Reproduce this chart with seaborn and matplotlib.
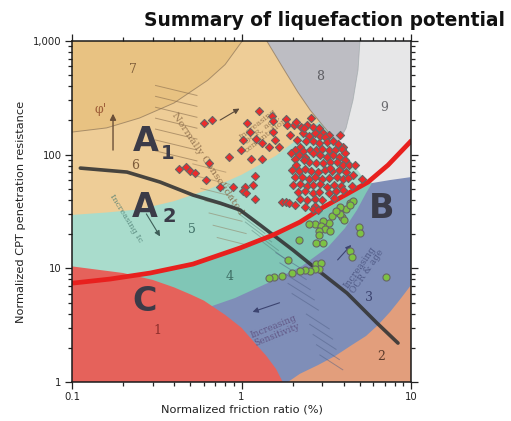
import numpy as np
import pandas as pd
import matplotlib
matplotlib.use("Agg")
import matplotlib.pyplot as plt
import seaborn as sns
from matplotlib.ticker import FixedLocator, LogLocator, FuncFormatter, NullFormatter

sns.set_theme(style="ticks")
plt.rcParams["font.family"] = ["DejaVu Sans"]

# ---------------- soil behaviour type zone boundaries (Fr %, Qt) ----------------
b76_fr = [0.05, 0.1, 0.16, 0.25, 0.4, 0.63, 0.8, 1.0, 1.12, 1.2]
b76_qt = [145, 158, 172, 210, 285, 450, 620, 980, 1400, 3000]

b65_fr = [0.05, 0.1, 0.16, 0.25, 0.4, 0.63, 1.0, 1.6, 2.5, 3.2, 4.0]
b65_qt = [28, 29.5, 31, 33, 39, 49, 66.5, 98, 164, 226, 336]

b54_fr = [0.05, 0.1, 0.25, 0.32, 0.4, 0.63, 1.0, 1.6, 2.5, 4.0, 5.0, 5.2]
b54_qt = [7.3, 7.6, 8.8, 9.4, 10.1, 12.0, 14.9, 19.6, 27.3, 41, 52.1, 54]

b43_fr = [0.05, 0.5, 0.698, 0.916, 1.43, 2.28, 3.24, 4.08, 4.80, 5.43, 5.89]
b43_qt = [3.0, 4.0, 4.76, 5.48, 7.43, 10.5, 15.4, 22.6, 32.6, 45.9, 56.3]

b32_fr = [1.7, 1.88, 2.21, 2.83, 3.56, 4.49, 5.43, 6.39, 7.52, 8.38, 9.22, 10.0, 11.0]
b32_qt = [0.8, 1.0, 1.18, 1.41, 1.69, 2.12, 2.54, 3.17, 4.13, 5.05, 6.07, 7.13, 8.6]

b1_fr = [0.05, 0.1, 0.2, 0.3, 0.4, 0.5, 0.6, 0.8, 1.0, 1.2, 1.4, 1.6, 1.75, 1.9]
b1_qt = [11.2, 10.4, 9.1, 7.9, 6.8, 5.9, 5.2, 3.9, 3.0, 2.2, 1.7, 1.3, 1.0, 0.75]

b8_fr = [1.41, 1.76, 2.15, 2.54, 3.07, 3.71]
b8_qt = [1000, 578, 355, 247, 175, 126.5]

b89_fr = [5.0, 4.87, 4.55, 4.14, 3.71]
b89_qt = [1000, 555, 302, 171, 126.5]

b9_fr = [3.71, 4.37, 5.14, 5.89, 7.52, 10.0, 12.0]
b9_qt = [126.5, 89.7, 64.8, 56.3, 59.8, 63.5, 64]

# ---------------- overlay curves ----------------
red_line_fr = [0.1, 0.168, 0.289, 0.517, 0.98, 1.53, 2.21, 2.99, 4.08, 5.58, 7.32, 9.87, 10.0]
red_line_qt = [7.4, 8.05, 9.09, 10.9, 15.1, 19.6, 25.5, 34, 44.1, 57.4, 81, 129, 132]

black_line_fr = [0.112, 0.211, 0.331, 0.518, 0.747, 0.98, 1.29, 2.01, 2.91, 4.19, 6.30, 8.38]
black_line_qt = [76.2, 70.3, 57.4, 44.1, 37.5, 32.6, 24, 14.5, 9.28, 6.06, 3.30, 2.20]

# ---------------- CPT data ----------------
red_fr = [1.27, 0.60, 0.67, 1.08, 1.51, 1.53, 1.83, 1.86, 2.04, 1.12, 1.02, 1.22, 1.32,
          1.53, 1.58, 1.45, 1.66, 0.99, 1.14, 1.32, 0.84, 0.64, 0.43, 0.47, 0.50, 0.53,
          0.62, 0.75, 0.89, 1.05, 1.17, 1.20, 1.02, 1.20, 1.73, 1.83, 1.90, 1.06,
          2.24, 2.44, 2.65, 2.86, 3.04, 3.27, 2.30, 2.49, 2.73, 2.91, 3.12, 2.40, 2.65,
          2.88, 3.18, 3.48, 3.71, 3.99, 2.21, 2.08, 2.32, 2.54, 2.75, 2.99, 3.27, 3.58,
          3.92, 4.06, 1.97, 2.18, 2.38, 2.65, 2.91, 3.18, 3.45, 3.78, 4.06, 2.08, 2.49,
          2.75, 3.04, 3.33, 3.65, 3.99, 4.29, 1.99, 2.18, 2.38, 2.58, 2.83, 3.10, 3.42,
          3.78, 4.14, 4.57, 2.08, 2.28, 2.49, 2.73, 2.99, 3.30, 3.65, 3.99, 5.14, 2.02,
          2.21, 2.42, 2.65, 2.91, 3.18, 3.51, 3.85, 2.16, 2.38, 2.63, 2.88, 3.27, 3.61,
          3.99, 2.44, 2.70, 2.21, 2.73, 2.38, 2.63,
          2.13, 2.33, 2.10, 2.57, 1.93, 2.10, 2.34, 3.33, 4.25, 4.49, 3.51, 2.99, 2.07,
          2.83, 4.67, 3.81]
red_qt = [242, 190, 201, 189, 219, 197, 205, 182, 182, 158, 134, 137, 126,
          158, 134, 116, 116, 110, 91.5, 91.5, 95, 84, 75, 78, 72, 69,
          60, 52, 52, 52, 54, 65, 48, 41, 38, 38, 37.5, 46,
          176, 183, 176, 171, 156, 150, 154, 146, 154, 146, 142, 132, 131,
          127, 129, 131, 124, 117, 117, 110, 108, 110, 110, 112, 110, 110,
          113, 103, 103, 98.6, 95.8, 103, 98.6, 95.8, 98.6, 94.6, 89.7, 91, 86.1,
          85, 83.9, 86.1, 86.1, 80.5, 80.5, 73.2, 71.3, 74.3, 71.3, 70.3, 73.2, 71.3,
          73.2, 70.3, 66.6, 64, 63.1, 61.4, 63.1, 61.4, 62.3, 63.1, 61.4, 61.4, 53.7,
          55.1, 52.9, 53.7, 55.1, 51.5, 53.7, 52.9, 46.9, 48.1, 46.2, 46.9, 45.6, 47.5,
          48.8, 39.9, 41, 41, 35.3, 34.4, 33,
          134, 171, 193, 210, 149, 81, 89.7, 76.2, 62.3, 52.9, 41.6, 39.9, 36,
          32.6, 80.5, 149]

green_fr = [4.37, 4.55, 4.14, 3.81, 3.66, 3.42, 3.92, 3.81, 3.28, 3.03, 2.71, 2.50,
            2.95, 3.11, 3.33, 2.87, 2.87, 4.93, 5.00, 2.18, 2.75, 3.03, 4.37, 4.49,
            1.88, 2.75, 2.95, 2.87, 2.71, 2.54, 2.37, 2.21, 1.99, 1.73, 1.56, 1.45,
            7.12, 4.03, 3.61, 4.37]
green_qt = [37.5, 39.1, 33.3, 34.6, 31.3, 28.8, 28.2, 30, 25, 26.1, 24.5, 24.5,
            23.5, 22.1, 21.3, 21.3, 19.6, 23.0, 20.4, 17.7, 16.7, 16.7, 14.2, 12.6,
            11.8, 10.9, 11.1, 9.86, 9.86, 9.47, 9.66, 9.47, 9.09, 8.55, 8.38, 8.21,
            8.38, 26.6, 31.9, 36.0]

zone_colors = {
    "1": "#E5625B", "2": "#E29E7C", "3": "#7F8EB8", "4": "#80C6B6",
    "5": "#A9DCCC", "6": "#EECD97", "7": "#E8C282", "8": "#BDBDC3", "9": "#E7E7E8",
}

FAR_LO, FAR_HI = 0.03, 6000.0

fig = plt.figure(figsize=(5.11, 4.21), dpi=100)
ax = fig.add_axes([72 / 511, 39 / 421, 339 / 511, 341 / 421])
ax.set_xscale("log")
ax.set_yscale("log")

# zones painted from the outermost ring inwards
ax.set_facecolor(zone_colors["2"])
ax.fill(b32_fr + [20, 20, FAR_LO, FAR_LO], b32_qt + [20, FAR_HI, FAR_HI, 0.5],
        color=zone_colors["3"], lw=0, zorder=0.1)
ax.fill(b43_fr + [b43_fr[-1], FAR_LO], b43_qt + [FAR_HI, FAR_HI],
        color=zone_colors["4"], lw=0, zorder=0.2)
ax.fill(b54_fr + [b54_fr[-1], FAR_LO], b54_qt + [FAR_HI, FAR_HI],
        color=zone_colors["5"], lw=0, zorder=0.3)
ax.fill(b65_fr + [b65_fr[-1], FAR_LO], b65_qt + [FAR_HI, FAR_HI],
        color=zone_colors["6"], lw=0, zorder=0.4)
ax.fill(b76_fr + [FAR_LO], b76_qt + [FAR_HI],
        color=zone_colors["7"], lw=0, zorder=0.5)
ax.fill(b8_fr + b89_fr[::-1][1:] + [5.1, 1.41], b8_qt + b89_qt[::-1][1:] + [FAR_HI, FAR_HI],
        color=zone_colors["8"], lw=0, zorder=0.6)
ax.fill(b89_fr + b9_fr[1:] + [12, 5.0], b89_qt + b9_qt[1:] + [FAR_HI, FAR_HI],
        color=zone_colors["9"], lw=0, zorder=0.7)
ax.fill(b1_fr + [1.9, FAR_LO, FAR_LO], b1_qt + [0.5, 0.5, 11.2],
        color=zone_colors["1"], lw=0, zorder=0.8)

# thin zone outlines
outline = dict(color="#8c7458", lw=0.7, alpha=0.7, zorder=0.9)
ax.plot(b76_fr, b76_qt, **outline)
ax.plot(b8_fr, b8_qt, **outline)
ax.plot(b89_fr, b89_qt, color="#9a9aa0", lw=0.6, alpha=0.6, zorder=0.9)


def hatch(x0, y0, dx, dy, step_x, step_y, n, color, lw=0.7, alpha=0.6):
    """Row of short parallel strokes, in axes fractions."""
    for i in range(n):
        xs = x0 + i * step_x
        ys = y0 + i * step_y
        ax.plot([xs, xs + dx], [ys, ys + dy], transform=ax.transAxes, color=color,
                lw=lw, alpha=alpha, zorder=1.2, solid_capstyle="butt")


# hatching of the normally consolidated band and the sensitivity fan
hatch(0.245, 0.870, 0.125, -0.030, 0.000, -0.032, 7, "#8a6e4e")
hatch(0.355, 0.640, 0.100, -0.025, 0.012, -0.036, 7, "#8a6e4e", alpha=0.45)
hatch(0.470, 0.520, 0.080, -0.060, 0.020, -0.025, 5, "#4f7f76", alpha=0.45)
hatch(0.600, 0.380, 0.080, -0.050, 0.012, -0.030, 5, "#4f5f86", alpha=0.5)
hatch(0.690, 0.200, 0.070, -0.045, 0.010, -0.030, 5, "#4f5f86", alpha=0.5)

# zone numbers
num_font = dict(family="DejaVu Serif", fontsize=9, ha="center", va="center",
                transform=ax.transAxes, zorder=1.5)
for txt, xa, ya, col in [("7", 0.180, 0.915, "#7d5c3a"), ("8", 0.732, 0.897, "#5d5d62"),
                         ("9", 0.920, 0.804, "#6a6a6e"), ("6", 0.186, 0.636, "#7d5c3a"),
                         ("5", 0.354, 0.446, "#3f6f66"), ("4", 0.466, 0.308, "#3f6f66"),
                         ("3", 0.876, 0.249, "#3c4470"), ("2", 0.912, 0.076, "#5b3a2a"),
                         ("1", 0.251, 0.152, "#8c2c2a")]:
    ax.text(xa, ya, txt, color=col, **num_font)

# behaviour groups
big = dict(fontsize=24, fontweight="bold", color="#3b3b48", ha="center", va="center",
           transform=ax.transAxes, zorder=1.6)
sub = dict(fontsize=14, fontweight="bold", color="#3b3b48", ha="center", va="center",
           transform=ax.transAxes, zorder=1.6)
ax.text(0.218, 0.704, "A", **big)
ax.text(0.283, 0.670, "1", **sub)
ax.text(0.215, 0.513, "A", **big)
ax.text(0.287, 0.486, "2", **sub)
ax.text(0.912, 0.510, "B", **big)
ax.text(0.215, 0.235, "C", **big)

# annotations of the classification chart
note = dict(transform=ax.transAxes, zorder=1.4, ha="center", va="center")
ax.text(0.083, 0.798, "φ'", fontsize=9, color="#a0603a", family="DejaVu Serif", **note)
ax.annotate("", xy=(0.121, 0.795), xytext=(0.121, 0.672), xycoords=ax.transAxes,
            arrowprops=dict(arrowstyle="-|>", color="#6b5038", lw=1.0, mutation_scale=9),
            zorder=1.4)
ax.annotate("", xy=(0.501, 0.806), xytext=(0.430, 0.764), xycoords=ax.transAxes,
            arrowprops=dict(arrowstyle="-|>", color="#5a4a3a", lw=0.8, mutation_scale=8),
            zorder=1.4)
ax.annotate("", xy=(0.264, 0.420), xytext=(0.215, 0.500), xycoords=ax.transAxes,
            arrowprops=dict(arrowstyle="-|>", color="#3e5e58", lw=0.8, mutation_scale=8),
            zorder=1.4)
ax.annotate("", xy=(0.525, 0.203), xytext=(0.620, 0.235), xycoords=ax.transAxes,
            arrowprops=dict(arrowstyle="-|>", color="#3c4470", lw=0.8, mutation_scale=8),
            zorder=1.4)
ax.annotate("", xy=(0.829, 0.408), xytext=(0.778, 0.352), xycoords=ax.transAxes,
            arrowprops=dict(arrowstyle="-|>", color="#3c4470", lw=0.8, mutation_scale=8),
            zorder=1.4)
ax.text(0.400, 0.640, "Normally Consolidated", fontsize=7.5, rotation=-56,
        color="#8a6a48", alpha=0.85, family="DejaVu Serif", **note)
ax.text(0.560, 0.740, "Increasing\nOCR, age,\ncementation", fontsize=6, rotation=38,
        color="#8a6a48", alpha=0.8, family="DejaVu Serif", linespacing=0.9, **note)
ax.text(0.160, 0.480, "Increasing Ic", fontsize=6, rotation=-58,
        color="#4a7a70", alpha=0.8, family="DejaVu Serif", **note)
ax.text(0.600, 0.150, "Increasing\nSensitivity", fontsize=6.5, rotation=22,
        color="#5a4a7a", alpha=0.8, family="DejaVu Serif", linespacing=0.9, **note)
ax.text(0.860, 0.330, "Increasing\nOCR & age", fontsize=6.5, rotation=55,
        color="#3c4470", alpha=0.7, family="DejaVu Serif", linespacing=0.9, **note)

# overlay curves
sns.lineplot(x=black_line_fr, y=black_line_qt, sort=False, estimator=None, ax=ax,
             color="#353535", lw=2.6, alpha=0.9, zorder=2, solid_capstyle="round")
sns.lineplot(x=red_line_fr, y=red_line_qt, sort=False, estimator=None, ax=ax,
             color="#E8201E", lw=3.4, zorder=2.2, solid_capstyle="round")

# CPT data points
sns.scatterplot(x=green_fr, y=green_qt, ax=ax, marker="o", s=26, color="#7DC242",
                edgecolor="#666666", linewidth=0.8, zorder=3)
sns.scatterplot(x=red_fr, y=red_qt, ax=ax, marker="D", s=17, color="#EE2A2A",
                edgecolor="#666666", linewidth=0.8, zorder=3.1)

ax.set_xlim(0.1, 10)
ax.set_ylim(1, 1000)

ax.xaxis.set_major_locator(FixedLocator([0.1, 1, 10]))
ax.yaxis.set_major_locator(FixedLocator([1, 10, 100, 1000]))
ax.xaxis.set_minor_locator(LogLocator(base=10, subs=np.arange(2, 10)))
ax.yaxis.set_minor_locator(LogLocator(base=10, subs=np.arange(2, 10)))
ax.xaxis.set_minor_formatter(NullFormatter())
ax.yaxis.set_minor_formatter(NullFormatter())
ax.xaxis.set_major_formatter(FuncFormatter(lambda v, p: f"{v:g}"))
ax.yaxis.set_major_formatter(FuncFormatter(lambda v, p: f"{v:,.0f}"))

ax.tick_params(which="both", direction="out", top=True, right=True,
               labeltop=False, labelright=False, color="#222222", width=0.9,
               labelsize=7.3, labelcolor="#222222")
ax.tick_params(which="major", length=5, pad=2.5)
ax.tick_params(which="minor", length=3)
for sp in ax.spines.values():
    sp.set_color("#1a1a1a")
    sp.set_linewidth(1.1)
    sp.set_zorder(5)

ax.set_xlabel("Normalized friction ratio (%)", fontsize=8.2, color="#222222")
ax.set_ylabel("Normalized CPT penetration resistance", fontsize=8.2, color="#222222")
ax.xaxis.set_label_coords(0.5, -0.065)
ax.yaxis.set_label_coords(-0.135, 0.5)

fig.text(0.988, 1 - 26 / 421, "Summary of liquefaction potential", ha="right",
         va="baseline", fontsize=13.4, fontweight="bold", color="#111111")

fig.savefig("out.png", dpi=100)
